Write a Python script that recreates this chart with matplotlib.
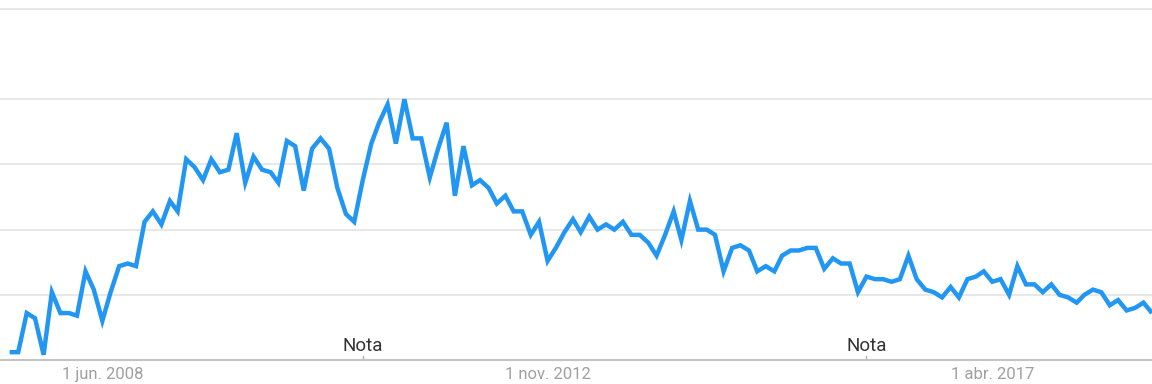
import pandas as pd
import matplotlib.pyplot as plt
import matplotlib.dates as mdates

# Monthly search interest (Google Trends style), Jul 2007 - Nov 2018
interest = [3, 3, 18, 16, 2, 26, 18, 18, 17, 34, 27, 15, 26, 36, 37, 36,
            53, 57, 52, 61, 57, 77, 74, 69, 77, 72, 73, 87, 68, 78, 73, 72,
            68, 84, 82, 65, 81, 85, 81, 66, 56, 53, 69, 83, 91, 98, 83, 100,
            85, 85, 70, 81, 91, 63, 82, 67, 69, 66, 60, 63, 57, 57, 48, 53,
            38, 43, 49, 54, 49, 55, 50, 52, 50, 53, 48, 48, 45, 40, 48, 57,
            46, 61, 50, 50, 48, 34, 43, 44, 42, 34, 36, 34, 40, 42, 42, 43,
            43, 35, 39, 37, 37, 26, 32, 31, 31, 30, 31, 40, 31, 27, 26, 24,
            28, 24, 31, 32, 34, 30, 31, 25, 36, 29, 29, 26, 29, 25, 24, 22,
            25, 27, 26, 21, 23, 19, 20, 22, 18]
months = pd.date_range("2007-07-01", periods=len(interest), freq="MS")

tick_dates = pd.to_datetime(["2008-06-01", "2012-11-01", "2017-04-01"])
tick_labels = ["1 jun. 2008", "1 nov. 2012", "1 abr. 2017"]
note_dates = pd.to_datetime(["2011-01-01", "2016-01-01"])
note_text = "Nota"

plt.rcParams["font.family"] = ["Roboto", "DejaVu Sans"]

fig = plt.figure(figsize=(11.52, 3.84), dpi=100)
ax = fig.add_axes([0, 24 / 384, 1, (360 - 9.3) / 384])

ax.plot(months, interest, color="#2196F3", linewidth=3.2, solid_joinstyle="miter",
        solid_capstyle="butt", zorder=3)

ax.set_xlim(pd.Timestamp("2007-05-27"), months[-1])
ax.set_ylim(0, 134.5)

# horizontal grid
ax.set_yticks([25, 50, 75, 100])
ax.yaxis.grid(True, color="#e4e4e4", linewidth=1.2)
ax.tick_params(axis="y", left=False, labelleft=False)

for side in ["left", "right"]:
    ax.spines[side].set_visible(False)
ax.spines["top"].set_color("#e4e4e4")
ax.spines["top"].set_linewidth(1.2)
ax.spines["bottom"].set_color("#c4c4c4")
ax.spines["bottom"].set_linewidth(1.5)

ax.set_xticks(tick_dates)
ax.set_xticklabels(tick_labels, fontsize=12, color="#a0a0a0")
ax.tick_params(axis="x", length=0, pad=5)

for d in note_dates:
    ax.axvline(d, ymin=0, ymax=0.012, color="#b0b0b0", linewidth=1)
    ax.annotate(note_text, xy=(mdates.date2num(d), 0), xytext=(0, 3.5),
                textcoords="offset points", ha="center", va="bottom",
                fontsize=13.5, color="#333333")

fig.savefig("out.png", dpi=100)
